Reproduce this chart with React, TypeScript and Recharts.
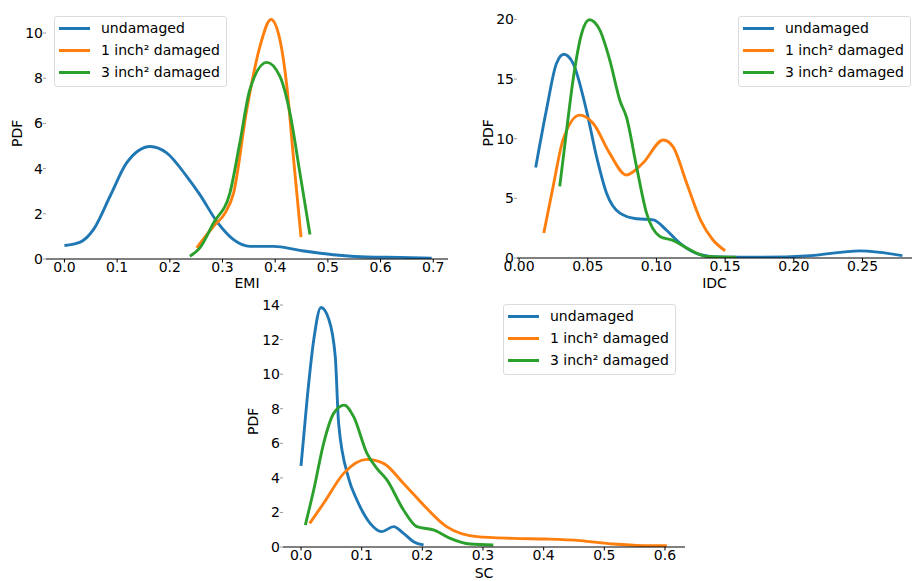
import { LineChart, Line, XAxis, YAxis, Legend } from 'recharts'

const BLUE = '#1f77b4'
const ORANGE = '#ff7f0e'
const GREEN = '#2ca02c'
const FONT = '"DejaVu Sans", sans-serif'
const FS = 14

const seriesNames = ['undamaged', '1 inch² damaged', '3 inch² damaged']

// EMI panel (x, pdf)
const emiUndamaged = [[0, 0.6], [0.03, 0.75], [0.055, 1.3], [0.087, 2.8], [0.118, 4.25], [0.163, 4.98], [0.194, 4.7], [0.232, 3.66], [0.257, 2.85], [0.289, 1.67], [0.321, 0.86], [0.352, 0.56], [0.397, 0.56], [0.447, 0.38], [0.51, 0.19], [0.574, 0.09], [0.637, 0.07], [0.697, 0.04]]
const emiDamaged1 = [[0.251, 0.49], [0.283, 1.45], [0.305, 2.04], [0.321, 2.92], [0.346, 6.6], [0.371, 9.4], [0.392, 10.6], [0.409, 9.7], [0.422, 7.67], [0.435, 4.4], [0.449, 0.97]]
const emiDamaged3 = [[0.238, 0.12], [0.257, 0.49], [0.283, 1.6], [0.314, 2.92], [0.333, 5.16], [0.352, 7.5], [0.384, 8.7], [0.409, 8.08], [0.428, 6.46], [0.447, 3.8], [0.466, 1.08]]
const emiXTicks = [0, 0.1, 0.2, 0.3, 0.4, 0.5, 0.6, 0.7]
const emiYTicks = [0, 2, 4, 6, 8, 10]

// IDC panel
const idcUndamaged = [[0.0121, 7.58], [0.0199, 12.4], [0.0272, 16.3], [0.0326, 17.08], [0.0394, 16.3], [0.049, 12.4], [0.0564, 8.5], [0.0637, 5.43], [0.0734, 3.76], [0.0855, 3.29], [0.0977, 3.2], [0.107, 2.37], [0.117, 1.25], [0.132, 0.28], [0.146, 0.08], [0.175, 0.06], [0.212, 0.2], [0.248, 0.6], [0.279, 0.2]]
const idcDamaged1 = [[0.018, 2.09], [0.0248, 6.0], [0.032, 9.9], [0.0442, 11.98], [0.054, 11.28], [0.066, 8.77], [0.078, 6.96], [0.09, 7.94], [0.105, 9.89], [0.112, 9.33], [0.122, 6.27], [0.132, 3.2], [0.141, 1.53], [0.15, 0.61]]
const idcDamaged3 = [[0.0296, 6.0], [0.0345, 10.6], [0.0394, 15.0], [0.0455, 18.8], [0.0512, 19.97], [0.0588, 19.1], [0.066, 16.6], [0.0734, 13.2], [0.0782, 11.8], [0.0855, 7.66], [0.0928, 3.76], [0.1025, 1.81], [0.112, 1.48], [0.122, 0.84], [0.1365, 0.14], [0.158, 0.06]]
const idcXTicks = [0, 0.05, 0.1, 0.15, 0.2, 0.25]
const idcYTicks = [0, 5, 10, 15, 20]

// SC panel
const scUndamaged = [[0, 4.7], [0.0099, 8.5], [0.0209, 11.97], [0.0329, 13.86], [0.0456, 13.2], [0.0565, 11.0], [0.062, 7.15], [0.0785, 3.97], [0.0922, 2.72], [0.114, 1.37], [0.133, 0.89], [0.1526, 1.18], [0.169, 0.79], [0.1855, 0.31], [0.202, 0.12]]
const scDamaged1 = [[0.0143, 1.37], [0.0373, 2.53], [0.0703, 4.26], [0.1087, 5.07], [0.136, 4.84], [0.169, 3.68], [0.202, 2.43], [0.24, 1.18], [0.29, 0.6], [0.35, 0.5], [0.405, 0.46], [0.46, 0.37], [0.515, 0.17], [0.564, 0.08], [0.603, 0.07]]
const scDamaged3 = [[0.0071, 1.27], [0.0209, 3.3], [0.0373, 6.0], [0.0538, 7.73], [0.0713, 8.21], [0.0867, 7.54], [0.1087, 5.42], [0.125, 4.55], [0.1416, 3.88], [0.169, 2.14], [0.191, 1.18], [0.2196, 0.98], [0.246, 0.5], [0.279, 0.17], [0.317, 0.12]]
const scXTicks = [0, 0.1, 0.2, 0.3, 0.4, 0.5, 0.6]
const scYTicks = [0, 2, 4, 6, 8, 10, 12, 14]

const toRows = (pts: number[][]) => pts.map(([x, y]) => ({ x, y }))

// keep the legend in plotting order (recharts sorts by name otherwise)
const renderLegend = (props: any) => {
  const items = [...props.payload].sort((a: any, b: any) => seriesNames.indexOf(a.value) - seriesNames.indexOf(b.value))
  return (
    <div
      style={{
        background: 'rgba(255,255,255,0.8)',
        border: '1px solid #dcdcdc',
        borderRadius: 3,
        padding: '0 6px 3px 0',
        fontFamily: FONT,
        fontSize: FS,
        color: '#000',
        whiteSpace: 'nowrap',
        boxSizing: 'border-box',
      }}
    >
      {items.map((p: any) => (
        <div key={p.value} style={{ display: 'flex', alignItems: 'center', height: 22 }}>
          <span style={{ display: 'inline-block', width: 31, borderTop: `3px solid ${p.color}`, marginLeft: 4, marginRight: 11 }} />
          <span>{p.value}</span>
        </div>
      ))}
    </div>
  )
}

type PanelProps = {
  left: number
  top: number
  width: number
  height: number
  margin: { top: number; right: number; left: number; bottom: number }
  yWidth: number
  xHeight: number
  xDomain: number[]
  yDomain: number[]
  xTicks: number[]
  yTicks: number[]
  digits: number
  xLabel: string
  pdfOffset: number
  legendPos: { top: number; left: number }
  series: number[][][]
  rightSpine?: boolean
}

const Panel = (p: PanelProps) => {
  const tickStyle = { fontFamily: FONT, fontSize: FS, fill: '#000' }
  return (
    <div style={{ position: 'absolute', left: p.left, top: p.top }}>
      <LineChart width={p.width} height={p.height} margin={p.margin}>
        <XAxis
          xAxisId="top"
          orientation="top"
          type="number"
          dataKey="x"
          domain={p.xDomain}
          allowDataOverflow
          height={0}
          tick={false}
          tickLine={false}
          axisLine={{ stroke: '#b0b0b0', strokeWidth: 1.2 }}
        />
        <XAxis
          type="number"
          dataKey="x"
          domain={p.xDomain}
          allowDataOverflow
          ticks={p.xTicks}
          interval={0}
          height={p.xHeight}
          tickFormatter={(v: number) => v.toFixed(p.digits)}
          tick={tickStyle}
          tickSize={3.5}
          tickMargin={0}
          tickLine={{ stroke: '#000' }}
          axisLine={{ stroke: '#000', strokeWidth: 1 }}
          label={{ value: p.xLabel, position: 'insideBottom', offset: 2, style: { fontFamily: FONT, fontSize: FS, fill: '#000' } }}
        />
        <YAxis
          type="number"
          domain={p.yDomain}
          allowDataOverflow
          ticks={p.yTicks}
          interval={0}
          width={p.yWidth}
          tick={tickStyle}
          tickSize={3}
          tickMargin={0}
          tickLine={{ stroke: '#9a9a9a' }}
          axisLine={false}
          label={{ value: 'PDF', angle: -90, position: 'insideLeft', offset: p.pdfOffset, style: { textAnchor: 'middle', fontFamily: FONT, fontSize: FS, fill: '#000' } }}
        />
        {p.rightSpine && (
          <YAxis yAxisId="right" orientation="right" width={0} tick={false} tickLine={false} axisLine={{ stroke: '#d0d0d0' }} />
        )}
        <Legend
          layout="vertical"
          align="center"
          verticalAlign="middle"
          content={renderLegend}
          wrapperStyle={{ top: p.legendPos.top, left: p.legendPos.left, width: 'auto', height: 'auto' }}
        />
        {p.series.map((s, i) => (
          <Line
            key={seriesNames[i]}
            name={seriesNames[i]}
            data={toRows(s)}
            dataKey="y"
            type="monotone"
            stroke={[BLUE, ORANGE, GREEN][i]}
            strokeWidth={2.9}
            dot={false}
            activeDot={false}
            isAnimationActive={false}
          />
        ))}
      </LineChart>
    </div>
  )
}

export default function App() {
  return (
    <div style={{ position: 'absolute', left: 0, top: 0, width: 912, height: 581, background: '#fff', overflow: 'hidden' }}>
      <Panel
        left={0}
        top={0}
        width={460}
        height={290}
        margin={{ top: 7.5, right: 12, left: 0, bottom: 0 }}
        yWidth={46}
        xHeight={31}
        xDomain={[-0.035, 0.728]}
        yDomain={[0, 11.13]}
        xTicks={emiXTicks}
        yTicks={emiYTicks}
        digits={1}
        xLabel="EMI"
        pdfOffset={17}
        legendPos={{ top: 16, left: 54 }}
        series={[emiUndamaged, emiDamaged1, emiDamaged3]}
      />
      <Panel
        left={460}
        top={0}
        width={452}
        height={290}
        margin={{ top: 7.5, right: 0, left: 0, bottom: 0 }}
        yWidth={57}
        xHeight={32}
        xDomain={[-0.0015, 0.286]}
        yDomain={[0, 21]}
        xTicks={idcXTicks}
        yTicks={idcYTicks}
        digits={2}
        xLabel="IDC"
        pdfOffset={28}
        legendPos={{ top: 16, left: 278 }}
        series={[idcUndamaged, idcDamaged1, idcDamaged3]}
      />
      <Panel
        left={230}
        top={290}
        width={460}
        height={290}
        margin={{ top: 5.7, right: 5, left: 0, bottom: 0 }}
        yWidth={53}
        xHeight={33}
        xDomain={[-0.0297, 0.633]}
        yDomain={[0, 14.54]}
        xTicks={scXTicks}
        yTicks={scYTicks}
        digits={1}
        xLabel="SC"
        pdfOffset={23}
        legendPos={{ top: 14, left: 273 }}
        series={[scUndamaged, scDamaged1, scDamaged3]}
        rightSpine
      />
    </div>
  )
}
